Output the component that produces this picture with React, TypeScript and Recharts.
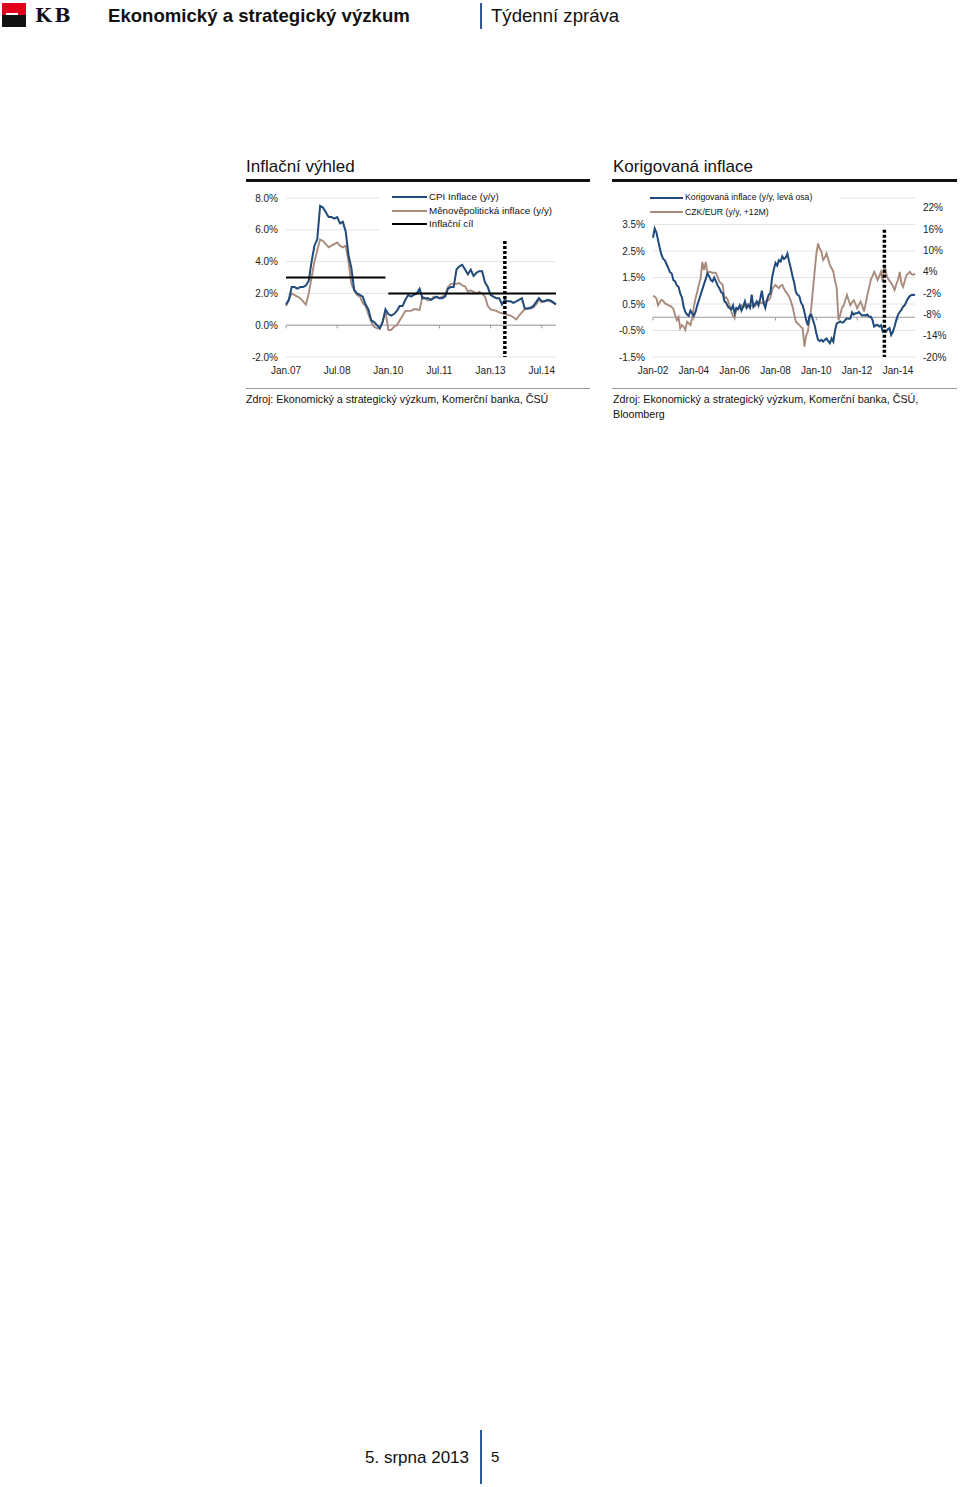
import React from 'react';
import { LineChart, Line, XAxis, YAxis, CartesianGrid, ReferenceLine } from 'recharts';

const MONTHS = ['Jan', 'Feb', 'Mar', 'Apr', 'May', 'Jun', 'Jul', 'Aug', 'Sep', 'Oct', 'Nov', 'Dec'];

// levý graf: měsíce Jan.07 - Dec.14
const leftYears = ['07', '08', '09', '10', '11', '12', '13', '14'];
const leftCats = leftYears.flatMap((y) => MONTHS.map((m) => `${m}.${y}`));

const cpiInflation = [
  1.3, 1.6, 2.4, 2.4, 2.3, 2.4, 2.4, 2.5, 2.8, 4.0, 5.0, 5.4,
  7.5, 7.4, 7.1, 6.8, 6.8, 6.7, 6.8, 6.4, 6.5, 5.9, 4.4, 3.6,
  2.2, 2.0, 1.9, 1.8, 1.3, 1.0, 0.3, 0.2, 0.0, -0.2, 0.2, 1.0,
  0.7, 0.6, 0.7, 0.9, 1.2, 1.2, 1.6, 1.9, 1.8, 1.9, 2.0, 2.3,
  1.7, 1.7, 1.7, 1.6, 1.7, 1.8, 1.7, 1.7, 1.8, 2.3, 2.4, 2.4,
  3.5, 3.7, 3.8, 3.5, 3.2, 3.5, 3.1, 3.3, 3.4, 3.4, 2.7, 2.4,
  1.9, 1.8, 1.7, 1.7, 1.3, 1.6, 1.5, 1.5, 1.4, 1.5, 1.6, 1.7,
  1.05, 1.05, 1.1, 1.2, 1.45, 1.7, 1.5, 1.5, 1.6, 1.55, 1.45, 1.3,
];

const monetaryInflation = [
  1.2, 1.6, 2.0, 1.9, 1.8, 1.7, 1.5, 1.3, 2.0, 3.0, 4.0, 4.7,
  5.4, 5.3, 5.1, 4.9, 5.0, 5.1, 5.2, 5.0, 4.9, 5.0, 4.0, 2.6,
  2.2, 1.9, 1.8, 1.4, 1.2, 0.7, 0.2, -0.1, -0.2, -0.2, 0.2, 0.9,
  -0.3, -0.3, -0.1, 0.0, 0.3, 0.6, 0.9, 0.9, 0.9, 1.0, 1.0, 0.95,
  1.8, 1.7, 1.55, 1.6, 1.8, 1.75, 1.7, 1.8, 1.9, 2.4, 2.6, 2.6,
  2.6, 2.65, 2.5, 2.45, 2.1, 2.2, 2.1, 2.0, 2.1, 2.0, 1.8, 1.2,
  1.0, 0.95, 0.9, 0.8, 0.75, 0.7, 0.65, 0.6, 0.5, 0.36, 0.6, 0.8,
  1.0, 1.05, 1.05, 1.1, 1.3, 1.6, 1.45, 1.5, 1.55, 1.5, 1.4, 1.3,
];

// inflační cíl: 3 % do prosince 2009, pak 2 %
const targetOld = 3;
const targetOldLast = 'Dec.09';
const targetNew = 2;
const targetNewFirst = 'Jan.10';

const leftTicks = ['Jan.07', 'Jul.08', 'Jan.10', 'Jul.11', 'Jan.13', 'Jul.14'];
const leftForecastStart = 'Jun.13';

// pravý graf: Jan-02 - Nov-14
const rightYears = ['02', '03', '04', '05', '06', '07', '08', '09', '10', '11', '12', '13', '14'];
const rightCats = rightYears.flatMap((y) => MONTHS.map((m) => `${m}-${y}`)).slice(0, 155);

const adjustedInflation = [
  3.0, 3.35, 3.2, 2.9, 2.6, 2.35, 2.2, 2.15, 2.0, 1.85, 1.7, 1.65,
  1.4, 1.35, 1.2, 1.15, 0.9, 0.75, 0.4, 0.2, 0.1, 0.05, 0.25, 0.15,
  0.05, 0.2, 0.45, 0.65, 0.85, 1.05, 1.25, 1.45, 1.65, 1.55, 1.4, 1.35,
  1.5, 1.35, 1.2, 1.1, 0.95, 0.9, 0.6, 0.55, 0.4, 0.35, 0.3, 0.45,
  0.15, 0.35, 0.3, 0.45, 0.25, 0.4, 0.6, 0.35, 0.45, 0.35, 0.85, 0.4,
  0.5, 0.6, 0.45, 0.7, 1.0, 0.55, 0.35, 0.65, 0.85, 0.9, 1.5, 1.8,
  2.05, 1.95, 2.15, 2.1, 2.3, 2.2, 2.25, 2.4, 2.1, 1.85, 1.55, 1.3,
  0.95, 0.85, 0.8, 0.55, 0.45, 0.2, -0.1, -0.3, 0.05, 0.1, -0.1, -0.3,
  -0.6, -0.85, -0.9, -0.85, -0.92, -0.85, -0.8, -0.9, -0.98, -0.8, -0.92, -0.5,
  -0.23, -0.2, -0.16, -0.2, -0.19, -0.1, -0.04, -0.06, -0.05, 0.19, 0.1, 0.15,
  0.15, 0.2, 0.12, 0.06, 0.08, 0.06, 0.1, 0.02, 0.02, -0.1, -0.35, -0.3,
  -0.29, -0.35, -0.3, -0.54, -0.5, -0.54, -0.45, -0.41, -0.67, -0.55, -0.35, -0.1,
  0.09, 0.2, 0.28, 0.4, 0.46, 0.6, 0.72, 0.8, 0.84, 0.85, 0.84,
];

const czkEur = [
  -2.8, -3.0, -3.5, -5.4, -4.5, -3.9, -4.2, -4.9, -5.1, -5.4, -5.6, -5.9,
  -6.5, -8.2, -9.6, -8.7, -11.9, -11.0, -11.5, -12.4, -10.1, -10.5, -11.0, -9.0,
  -5.8, -3.5, -1.6, 0.5, 2.2, 6.8, 4.5, 6.8, 3.6, 4.0, 3.9, 3.7,
  3.8, 3.6, 2.5, 1.2, 0.8, 0.3, -3.5, -3.2, -3.9, -5.5, -7.2, -8.5,
  -8.9, -6.3, -6.3, -5.8, -5.4, -6.0, -5.7, -5.2, -5.0, -5.4, -5.6, -5.7,
  -5.7, -5.0, -4.9, -4.6, -4.9, -4.5, -4.4, -4.2, -4.0, -3.2, -1.1, -0.2,
  0.3, -0.2, -0.6, 0.1, 0.3, -0.8, -1.6, -2.2, -3.0, -4.2, -5.8, -8.0,
  -10.1, -10.5, -11.0, -11.5, -12.0, -17.1, -14.0, -12.9, -9.5, -6.3, -1.0, 4.0,
  9.0, 12.0, 10.5, 9.7, 7.3, 8.0, 9.2, 7.5, 5.9, 5.0, 4.0, 1.5,
  -0.6, -9.6, -8.2, -6.3, -5.5, -4.1, -2.5, -4.0, -5.4, -4.6, -4.0, -5.0,
  -6.3, -5.3, -4.4, -5.5, -7.2, -5.0, -2.5, -0.5, 1.7, 2.8, 4.0, 3.0,
  1.7, 2.8, 4.0, 1.2, 5.9, 3.5, 2.2, 1.5, 0.8, 0.0, -1.1, 0.5,
  1.7, 4.0, 0.8, -0.2, 1.5, 3.1, 3.5, 4.0, 3.3, 3.1, 3.5,
];

const rightTicks = ['Jan-02', 'Jan-04', 'Jan-06', 'Jan-08', 'Jan-10', 'Jan-12', 'Jan-14'];
const rightForecastStart = 'May-13';

const BLUE = '#1f4a7a';
const BROWN = '#a98b7e';
const GRID = '#e4e4e4';
const AXIS = '#9a9a9a';
const FONT = '"Liberation Sans", Arial, Helvetica, sans-serif';

const oldEnd = leftCats.indexOf(targetOldLast);
const newStart = leftCats.indexOf(targetNewFirst);
const leftData = leftCats.map((cat, i) => ({
  cat,
  cpi: cpiInflation[i],
  mp: monetaryInflation[i],
  t3: i <= oldEnd ? targetOld : null,
  t2: i >= newStart ? targetNew : null,
}));

const rightData = rightCats.map((cat, i) => ({
  cat,
  adj: adjustedInflation[i],
  fx: czkEur[i],
}));

const tickStyle = { fontSize: 10, fill: '#222', fontFamily: FONT };

function Text({ x, y, size, children, bold, color, align, w }: any) {
  return (
    <div
      style={{
        position: 'absolute',
        left: align === 'right' ? x - (w || 300) : x,
        width: align === 'right' ? w || 300 : undefined,
        textAlign: align || 'left',
        top: y - size * 0.6,
        fontSize: size,
        lineHeight: `${size * 1.2}px`,
        fontWeight: bold ? 'bold' : 'normal',
        color: color || '#111',
        whiteSpace: 'nowrap',
      }}
    >
      {children}
    </div>
  );
}

function Box({ x, y, w, h, color }: any) {
  return <div style={{ position: 'absolute', left: x, top: y, width: w, height: h, background: color }} />;
}

function LegendRow({ x, y, color, label, size, lineW }: any) {
  return (
    <>
      <Box x={x} y={y - 1} w={lineW} h={2} color={color} />
      <Text x={x + lineW + 2} y={y} size={size}>{label}</Text>
    </>
  );
}

export default function App() {
  return (
    <div style={{ position: 'absolute', left: 0, top: 0, width: 960, height: 1487, background: '#fff', fontFamily: FONT }}>
      {/* hlavička */}
      <Box x={2} y={3} w={24} h={12} color="#e2001a" />
      <Box x={2} y={15} w={24} h={12} color="#111" />
      <Box x={6} y={13} w={12} h={2} color="#fff" />
      <Text x={35} y={15} size={19} bold>
        <span style={{ fontFamily: '"DejaVu Serif", serif', letterSpacing: 3 }}>KB</span>
      </Text>
      <Text x={108} y={16} size={18.6} bold>Ekonomický a strategický výzkum</Text>
      <Box x={480} y={3} w={2} h={26} color="#2f5a96" />
      <Text x={491} y={16} size={18.6}>Týdenní zpráva</Text>

      {/* levý graf */}
      <Text x={246} y={167} size={17}>Inflační výhled</Text>
      <Box x={246} y={179} w={344} h={3} color="#111" />
      <div style={{ position: 'absolute', left: 230, top: 180 }}>
        <LineChart width={340} height={210} data={leftData} margin={{ top: 18, right: 14, bottom: 3, left: 0 }}>
          <CartesianGrid horizontal vertical={false} stroke={GRID} />
          <XAxis dataKey="cat" interval={17} axisLine={false} tickLine={false} tick={tickStyle} tickMargin={4} />
          <YAxis
            width={56}
            domain={[-2, 8]}
            ticks={[-2, 0, 2, 4, 6, 8]}
            tickFormatter={(v: number) => `${v.toFixed(1)}%`}
            axisLine={false}
            tickLine={false}
            tick={tickStyle}
          />
          <ReferenceLine y={0} stroke={AXIS} strokeWidth={1} />
          {leftTicks.map((c) => (
            <ReferenceLine key={c} segment={[{ x: c, y: 0 }, { x: c, y: -0.2 }]} stroke={AXIS} />
          ))}
          <Line dataKey="mp" stroke={BROWN} strokeWidth={1.9} dot={false} isAnimationActive={false} />
          <Line dataKey="cpi" stroke={BLUE} strokeWidth={2} dot={false} isAnimationActive={false} />
          <Line dataKey="t3" stroke="#000" strokeWidth={2} dot={false} isAnimationActive={false} />
          <Line dataKey="t2" stroke="#000" strokeWidth={2} dot={false} isAnimationActive={false} />
          <ReferenceLine
            segment={[{ x: leftForecastStart, y: 5.3 }, { x: leftForecastStart, y: -2 }]}
            stroke="#000"
            strokeWidth={3.5}
            strokeDasharray="3 2"
          />
        </LineChart>
      </div>
      <Box x={380} y={189} w={185} h={44} color="#fff" />
      <LegendRow x={392} y={197} color={BLUE} label="CPI Inflace (y/y)" size={9.8} lineW={35} />
      <LegendRow x={392} y={211} color={BROWN} label="Měnověpolitická inflace (y/y)" size={9.8} lineW={35} />
      <LegendRow x={392} y={224} color="#000" label="Inflační cíl" size={9.8} lineW={35} />
      <Box x={246} y={388} w={344} h={1} color="#999" />
      <Text x={246} y={399} size={10.7}>Zdroj: Ekonomický a strategický výzkum, Komerční banka, ČSÚ</Text>

      {/* pravý graf */}
      <Text x={613} y={167} size={17}>Korigovaná inflace</Text>
      <Box x={612} y={179} w={345} h={3} color="#111" />
      <div style={{ position: 'absolute', left: 596, top: 180 }}>
        <LineChart width={364} height={210} data={rightData} margin={{ top: 18, right: 5, bottom: 3, left: 1 }}>
          <CartesianGrid yAxisId="l" horizontal vertical={false} stroke={GRID} />
          <XAxis dataKey="cat" interval={23} axisLine={false} tickLine={false} tick={tickStyle} tickMargin={4} />
          <YAxis
            yAxisId="l"
            width={56}
            domain={[-1.5, 4.5]}
            ticks={[-1.5, -0.5, 0.5, 1.5, 2.5, 3.5, 4.5]}
            tickFormatter={(v: number) => (v > 4 ? '' : `${v.toFixed(1)}%`)}
            axisLine={false}
            tickLine={false}
            tick={tickStyle}
          />
          <YAxis
            yAxisId="r"
            orientation="right"
            width={40}
            domain={[-20, 24.8]}
            ticks={[-20, -14, -8, -2, 4, 10, 16, 22]}
            tickFormatter={(v: number) => `${v}%`}
            axisLine={false}
            tickLine={false}
            tick={tickStyle}
          />
          <ReferenceLine yAxisId="l" y={0} stroke={AXIS} strokeWidth={1} />
          {rightTicks.map((c) => (
            <ReferenceLine key={c} yAxisId="l" segment={[{ x: c, y: 0 }, { x: c, y: -0.12 }]} stroke={AXIS} />
          ))}
          <Line yAxisId="r" dataKey="fx" stroke={BROWN} strokeWidth={1.9} dot={false} isAnimationActive={false} />
          <Line yAxisId="l" dataKey="adj" stroke={BLUE} strokeWidth={2} dot={false} isAnimationActive={false} />
          <ReferenceLine
            yAxisId="l"
            segment={[{ x: rightForecastStart, y: 3.3 }, { x: rightForecastStart, y: -1.5 }]}
            stroke="#000"
            strokeWidth={3.5}
            strokeDasharray="3 2"
          />
        </LineChart>
      </div>
      <Box x={645} y={189} w={195} h={29} color="#fff" />
      <LegendRow x={650} y={197.5} color={BLUE} label="Korigovaná inflace (y/y, levá osa)" size={8.7} lineW={33} />
      <LegendRow x={650} y={212} color={BROWN} label="CZK/EUR (y/y, +12M)" size={8.7} lineW={33} />
      <Box x={612} y={388} w={345} h={1} color="#999" />
      <Text x={613} y={399} size={10.7}>Zdroj: Ekonomický a strategický výzkum, Komerční banka, ČSÚ,</Text>
      <Text x={613} y={414} size={10.7}>Bloomberg</Text>

      {/* patička */}
      <Text x={469} y={1458} size={17} align="right" w={200}>5. srpna 2013</Text>
      <Box x={480} y={1430} w={2} h={54} color="#2f5a96" />
      <Text x={491} y={1457} size={15}>5</Text>
    </div>
  );
}
